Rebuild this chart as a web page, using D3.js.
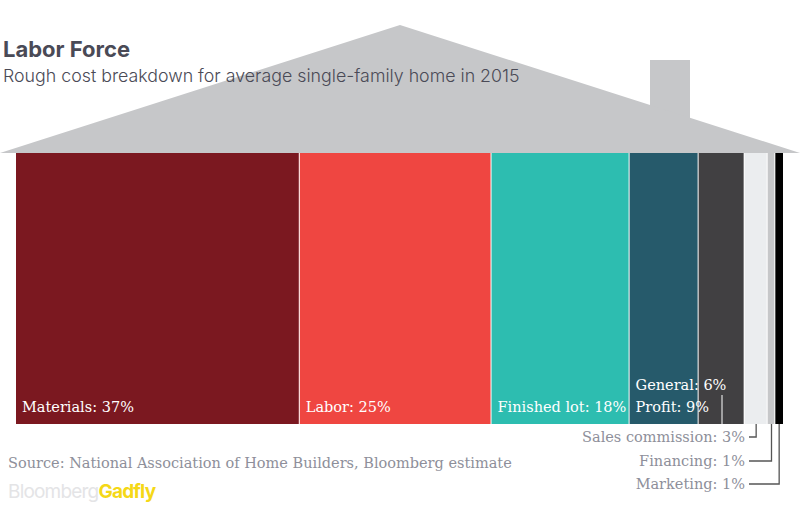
<!DOCTYPE html><html><head><script src="https://cdn.jsdelivr.net/npm/d3@7"></script>
<style>body{margin:0;background:#fff}</style></head><body><svg id="c" width="800" height="522"></svg>
<script>
const categories=["Materials","Labor","Finished lot","Profit","General","Sales commission","Financing","Marketing"];
const values=[37,25,18,9,6,3,1,1];
const colors=["#7b1820","#ef4641","#2dbdb0","#265a6b","#414042","#ebedef","#c6c7c9","#000000"];
const svg=d3.select("#c");
const x=d3.scaleLinear().domain([0,100]).range([16,783]);
const y0=153,y1=424;
svg.append("rect").attr("x",650).attr("y",60).attr("width",40).attr("height",60).attr("fill","#c6c7c9");
svg.append("polygon").attr("points","0,153 400,25 800,153").attr("fill","#c6c7c9");
let cum=0;const data=values.map((v,i)=>{const d={c:categories[i],v,s:cum,col:colors[i]};cum+=v;return d;});
svg.selectAll("rect.b").data(data).enter().append("rect").attr("class","b")
 .attr("x",d=>x(d.s)).attr("y",y0).attr("width",d=>x(d.s+d.v)-x(d.s)-(d.c==="Marketing"?0:1)).attr("height",y1-y0).attr("fill",d=>d.col);
svg.append("text").attr("x",3).attr("y",57).text("Labor Force").attr("font-family","Inter, Roboto, sans-serif").attr("font-weight",700).attr("font-size",22).attr("fill","#4a4a56");
svg.append("text").attr("x",3).attr("y",82).text("Rough cost breakdown for average single-family home in 2015").attr("font-family","Inter, Roboto, sans-serif").attr("font-weight",300).attr("font-size",17.8).attr("fill","#4a4a56");
const serif="DejaVu Serif, serif";
const fs=14.5;
const inl=[[0,"Materials: 37%"],[1,"Labor: 25%"],[2,"Finished lot: 18%"],[3,"Profit: 9%"]];
inl.forEach(([i,t])=>svg.append("text").attr("x",x(data[i].s)+6).attr("y",412).text(t).attr("font-family",serif).attr("font-size",fs).attr("fill","#fff"));
svg.append("text").attr("x",x(data[3].s)+6).attr("y",390).text("General: 6%").attr("font-family",serif).attr("font-size",fs).attr("fill","#fff");
svg.append("line").attr("x1",722).attr("x2",722).attr("y1",395).attr("y2",y1).attr("stroke","#fff");
const outs=[[5,"Sales commission: 3%",437],[6,"Financing: 1%",461],[7,"Marketing: 1%",484]];
outs.forEach(([i,t,yy])=>{const cx=x(data[i].s+data[i].v/2);
 svg.append("path").attr("d",`M${cx},${y1}V${yy}H${749}`).attr("fill","none").attr("stroke","#555").attr("stroke-width",1.3);
 svg.append("text").attr("x",745).attr("y",yy+5).attr("text-anchor","end").text(t).attr("font-family",serif).attr("font-size",fs).attr("fill","#8e8f9a");});
svg.append("text").attr("x",8).attr("y",468).text("Source: National Association of Home Builders, Bloomberg estimate").attr("font-family",serif).attr("font-size",fs).attr("fill","#8e8f9a");
const lg=svg.append("text").attr("x",8).attr("y",498).attr("font-family","Inter, Roboto, sans-serif").attr("font-size",19).attr("letter-spacing",-0.8);
lg.append("tspan").text("Bloomberg").attr("fill","#e4e4e6");
lg.append("tspan").text("Gadfly").attr("fill","#f5d817").attr("font-weight",700);
</script></body></html>
